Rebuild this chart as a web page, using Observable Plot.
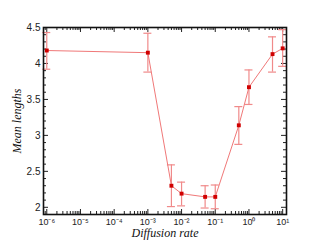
<!DOCTYPE html>
<html><head><meta charset="utf-8">
<script src="https://cdn.jsdelivr.net/npm/d3@7"></script>
<script src="https://cdn.jsdelivr.net/npm/@observablehq/plot@0.6"></script>
<style>body{margin:0;background:#fff}</style>
</head><body><div id="chart"></div>
<script>
const rates = [1e-6, 1e-3, 5e-3, 1e-2, 5e-2, 1e-1, 0.5, 1, 5, 10];
const means = [4.18, 4.15, 2.30, 2.19, 2.145, 2.145, 3.14, 3.67, 4.13, 4.21];
const upper = [4.43, 4.42, 2.59, 2.35, 2.30, 2.31, 3.40, 3.91, 4.37, 4.47];
const lower = [3.92, 3.88, 2.01, 2.02, 1.99, 1.98, 2.875, 3.43, 3.88, 3.96];
const xTicks = [1e-6, 1e-5, 1e-4, 1e-3, 1e-2, 1e-1, 1, 10];
const xTickLabels = ["10⁻⁶","10⁻⁵","10⁻⁴","10⁻³","10⁻²","10⁻¹","10⁰","10¹"];
const yTicks = [2, 2.5, 3, 3.5, 4, 4.5];
const yTickLabels = ["2","2.5","3","3.5","4","4.5"];

const data = rates.map((r,i)=>({x:r, y:means[i], hi:upper[i], lo:lower[i]}));
const xDom = [8e-7, 13], yDom = [1.9, 4.5];
const W = 327, H = 245, mL = 43, mR = 41, mT = 27, mB = 31;
const pxPerY = (H - mT - mB) / (yDom[1]-yDom[0]);
const pxPerDec = (W - mL - mR) / (Math.log10(xDom[1]) - Math.log10(xDom[0]));
const yLen = px => px / pxPerY;
const xFac = px => Math.pow(10, px / pxPerDec);

const xMinor = [];
for (let e = -7; e <= 1; e++) for (let m = 2; m <= 9; m++) { const v = m*Math.pow(10,e); if (v>=xDom[0] && v<=xDom[1]) xMinor.push(v); }
const yMinor = d3.range(19, 46).map(v=>v/10).filter(v=>!yTicks.includes(v));

const majX = 5, minX = 3, majY = 5, minY = 3;
const tickColor = "#222";
const serif = "'Liberation Serif', 'Times New Roman', serif";
const chart = Plot.plot({
  width: W, height: H,
  marginLeft: mL, marginRight: mR, marginTop: mT, marginBottom: mB,
  x: {type: "log", domain: xDom},
  y: {domain: yDom},
  style: {fontFamily: "'Liberation Sans', Arial, sans-serif", fontSize: "10px", background: "#fff"},
  marks: [
    Plot.ruleX(xTicks, {x: d=>d, y1: yDom[0], y2: yDom[0]+yLen(majX), stroke: tickColor}),
    Plot.ruleX(xMinor, {x: d=>d, y1: yDom[0], y2: yDom[0]+yLen(minX), stroke: tickColor}),
    Plot.ruleX(xTicks, {x: d=>d, y1: yDom[1], y2: yDom[1]-yLen(majX), stroke: tickColor}),
    Plot.ruleX(xMinor, {x: d=>d, y1: yDom[1], y2: yDom[1]-yLen(minX), stroke: tickColor}),
    Plot.ruleY(yTicks, {y: d=>d, x1: xDom[0], x2: xDom[0]*xFac(majY), stroke: tickColor}),
    Plot.ruleY(yMinor, {y: d=>d, x1: xDom[0], x2: xDom[0]*xFac(minY), stroke: tickColor}),
    Plot.ruleY(yTicks, {y: d=>d, x1: xDom[1], x2: xDom[1]/xFac(majY), stroke: tickColor}),
    Plot.ruleY(yMinor, {y: d=>d, x1: xDom[1], x2: xDom[1]/xFac(minY), stroke: tickColor}),
    Plot.axisX(xTicks, {tickSize: 0, tickPadding: 4, tickFormat: d=>xTickLabels[xTicks.indexOf(d)], label: null, fontSize: 9, fill: "#222"}),
    Plot.axisY(yTicks, {tickSize: 0, tickPadding: 3, tickFormat: d=>yTickLabels[yTicks.indexOf(d)], label: null, fontSize: 10, fill: "#222"}),
    Plot.ruleX(data, {x: "x", y1: "lo", y2: "hi", stroke: "#f08a8a", strokeWidth: 1.2}),
    Plot.ruleY(data, {y: "hi", x1: d=>d.x/xFac(4), x2: d=>d.x*xFac(4), stroke: "#f08a8a", strokeWidth: 1.2}),
    Plot.ruleY(data, {y: "lo", x1: d=>d.x/xFac(4), x2: d=>d.x*xFac(4), stroke: "#f08a8a", strokeWidth: 1.2}),
    Plot.line(data, {x: "x", y: "y", stroke: "#f07878", strokeWidth: 1}),
    Plot.dot(data, {x: "x", y: "y", symbol: "square", r: 2.2, fill: "#d00000", stroke: "none"}),
    Plot.frame({stroke: "#111", strokeWidth: 1.6}),
    Plot.text(["Diffusion rate"], {frameAnchor: "bottom", dy: 19, textAnchor: "middle", lineAnchor: "middle", fontFamily: serif, fontStyle: "italic", fontSize: 12, fill: "#111"}),
    Plot.text(["Mean lengths"], {frameAnchor: "left", dx: -26, rotate: -90, textAnchor: "middle", lineAnchor: "middle", fontFamily: serif, fontStyle: "italic", fontSize: 12, fill: "#111"})
  ]
});
document.getElementById("chart").appendChild(chart);
</script>
</body></html>
